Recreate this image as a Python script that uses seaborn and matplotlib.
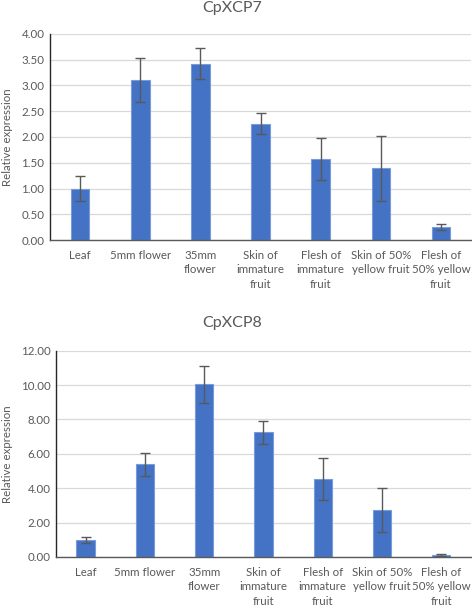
import numpy as np
import pandas as pd
import seaborn as sns
import matplotlib
matplotlib.use("Agg")
import matplotlib.pyplot as plt

# tissues shown on both panels
tissues = ["Leaf", "5mm flower", "35mm\nflower", "Skin of\nimmature\nfruit",
           "Flesh of\nimmature\nfruit", "Skin of 50%\nyellow fruit",
           "Flesh of\n50% yellow\nfruit"]

# CpXCP7 means and error
xcp7_mean = [1.00, 3.10, 3.42, 2.26, 1.57, 1.39, 0.25]
xcp7_err = [0.24, 0.43, 0.30, 0.20, 0.41, 0.63, 0.055]

# CpXCP8
xcp8_mean = [0.98, 5.40, 10.05, 7.25, 4.52, 2.75, 0.12]
xcp8_err = [0.17, 0.67, 1.07, 0.67, 1.23, 1.27, 0.04]

xcp7_ticks = [0, 0.5, 1.0, 1.5, 2.0, 2.5, 3.0, 3.5, 4.0]
xcp8_ticks = [0, 2, 4, 6, 8, 10, 12]

sns.set_style("white")
plt.rcParams['font.family'] = ['Lato', 'DejaVu Sans']

BLUE = "#4472C4"
GREY = "#595959"

fig = plt.figure(figsize=(4.72, 6.07), dpi=100)


def panel(rect, means, errs, ticks, title, title_y):
	ax = fig.add_axes(rect)
	df = pd.DataFrame({"tissue": tissues, "value": means})
	sns.barplot(data=df, x="tissue", y="value", color=BLUE, saturation=1,
				width=0.31, edgecolor="#7A9BDB", linewidth=0.8, ax=ax, zorder=2)
	ax.errorbar(np.arange(len(means)), means, yerr=errs, fmt="none",
				ecolor=GREY, elinewidth=1, capsize=3.5, capthick=1, zorder=3)
	ax.set_ylim(ticks[0], ticks[-1])
	ax.set_xlim(-0.5, len(means) - 0.5)
	ax.set_yticks(ticks)
	ax.set_yticklabels(["%.2f" % t for t in ticks])
	ax.yaxis.grid(True, color="#D9D9D9", linewidth=0.9, zorder=0)
	ax.set_axisbelow(True)
	for s in ["top", "right"]:
		ax.spines[s].set_visible(False)
	ax.spines["left"].set_color("#262626")
	ax.spines["left"].set_linewidth(1.0)
	ax.spines["bottom"].set_color("#595959")
	ax.spines["bottom"].set_linewidth(1.0)
	ax.tick_params(axis="both", length=0, labelsize=8.3, labelcolor=GREY, pad=4)
	ax.tick_params(axis="x", pad=7)
	for lab in ax.get_xticklabels():
		lab.set_verticalalignment("top")
		lab.set_linespacing(1.4)
	ax.set_xlabel("")
	ax.set_ylabel("Relative expression", fontsize=8.3, color=GREY, labelpad=4)
	fig.text(0.492, title_y, title, ha="center", va="center", fontsize=11.5, color=GREY)
	return ax


a1 = panel([0.106, 0.6046, 0.892, 0.3394], xcp7_mean, xcp7_err, xcp7_ticks, "CpXCP7", 0.986)
a2 = panel([0.1186, 0.0824, 0.879, 0.3398], xcp8_mean, xcp8_err, xcp8_ticks, "CpXCP8", 0.468)
a1.yaxis.set_label_coords(-0.088, 0.5)
a2.yaxis.set_label_coords(-0.104, 0.5)

fig.savefig("out.png", dpi=100)
